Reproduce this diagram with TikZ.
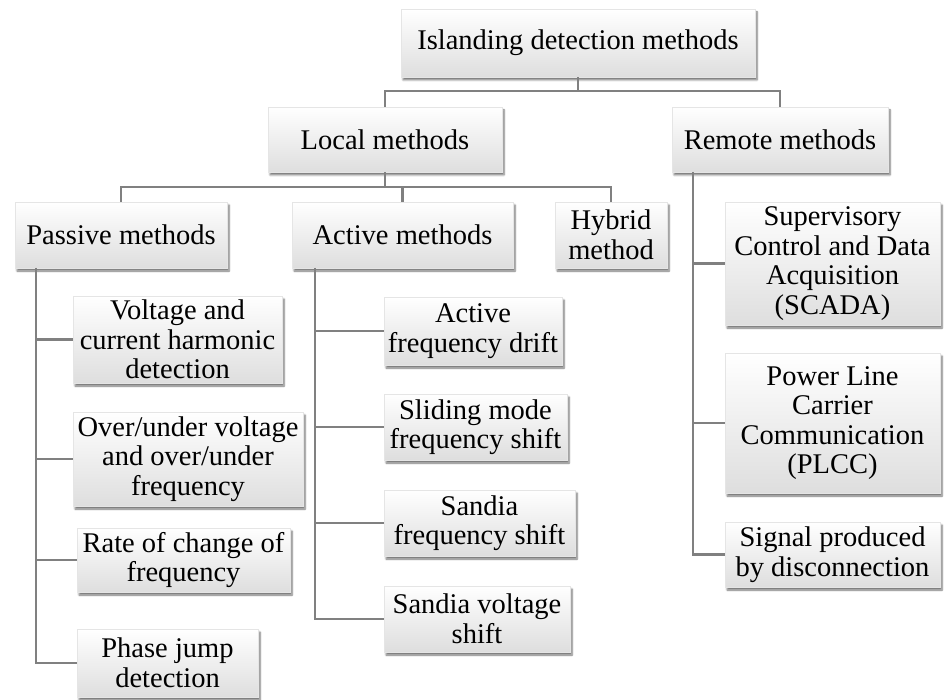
\documentclass[tikz,border=0pt]{standalone}
\usepackage{fontspec}
\setmainfont{Liberation Serif}
\usetikzlibrary{shadows.blur}
\definecolor{linegray}{RGB}{128,128,128}
\definecolor{boxbot}{RGB}{222,222,222}
\begin{document}
\begin{tikzpicture}[x=1pt,y=-1pt,
  box/.style={rectangle, inner sep=0pt, align=center,
    top color=white, bottom color=boxbot, draw=gray!20, line width=0.4pt,
    blur shadow={shadow xshift=2pt, shadow yshift=-3pt, shadow opacity=55, shadow blur steps=6},
    font=\fontsize{28.5}{29.5}\selectfont},
  conn/.style={draw=linegray, line width=2.2pt}]
\useasboundingbox (0,0) rectangle (946,700);
% top levels
\node[box, minimum width=354pt, minimum height=68pt] (root) at (578,43) {Islanding detection methods};
\node[box, minimum width=234pt, minimum height=65pt] (local) at (385,139.5) {Local methods};
\node[box, minimum width=216pt, minimum height=65pt] (remote) at (780,139.5) {Remote methods};
\node[box, minimum width=212pt, minimum height=66pt] (passive) at (121,235) {Passive methods};
\node[box, minimum width=221pt, minimum height=66pt] (active) at (402.5,235) {Active methods};
\node[box, minimum width=112pt, minimum height=66pt] (hybrid) at (611,235) {Hybrid\\method};
% remote children
\node[box, minimum width=215pt, minimum height=123pt] (scada) at (832.5,263.5) {Supervisory\\Control and Data\\Acquisition\\(SCADA)};
\node[box, minimum width=215pt, minimum height=140pt] (plcc) at (832.5,423) {Power Line\\Carrier\\Communication\\(PLCC)};
\node[box, minimum width=215pt, minimum height=65pt] (signal) at (832.5,554.5) {Signal produced\\by disconnection};
% passive children
\node[box, minimum width=209pt, minimum height=87pt] (voltage) at (177.5,339.5) {Voltage and\\current harmonic\\detection};
\node[box, minimum width=230pt, minimum height=94pt] (overunder) at (188,459) {Over/under voltage\\and over/under\\frequency};
\node[box, minimum width=213pt, minimum height=64pt] (rate) at (183.5,560) {Rate of change of\\frequency};
\node[box, minimum width=181pt, minimum height=68pt] (phase) at (167.5,663) {Phase jump\\detection};
% active children
\node[box, minimum width=178pt, minimum height=68pt] (afd) at (473,331) {Active\\frequency drift};
\node[box, minimum width=183pt, minimum height=66pt] (sliding) at (475.5,427) {Sliding mode\\frequency shift};
\node[box, minimum width=191pt, minimum height=66pt] (sandiaf) at (479.5,523) {Sandia\\frequency shift};
\node[box, minimum width=186pt, minimum height=66pt] (sandiav) at (477,619) {Sandia voltage\\shift};
% connectors level 1
\coordinate (bus1) at (0,91);
\draw[conn] (root.south) -- (root.south |- bus1);
\draw[conn] (local.north) -- (local.north |- bus1) -| (remote.north);
% level 2
\coordinate (bus2) at (0,187);
\draw[conn] (local.south) -- (local.south |- bus2);
\draw[conn] (passive.north) -- (passive.north |- bus2) -| (hybrid.north);
\draw[conn] (active.north) -- (active.north |- bus2);
% passive trunk
\coordinate (tp) at (36,268);
\draw[conn] (tp) |- (phase.west);
\draw[conn] (tp |- voltage.west) -- (voltage.west);
\draw[conn] (tp |- overunder.west) -- (overunder.west);
\draw[conn] (tp |- rate.west) -- (rate.west);
% active trunk
\coordinate (ta) at (315,268);
\draw[conn] (ta) |- (sandiav.west);
\draw[conn] (ta |- afd.west) -- (afd.west);
\draw[conn] (ta |- sliding.west) -- (sliding.west);
\draw[conn] (ta |- sandiaf.west) -- (sandiaf.west);
% remote trunk
\coordinate (tr) at (693,172);
\draw[conn] (tr) |- (signal.west);
\draw[conn] (tr |- scada.west) -- (scada.west);
\draw[conn] (tr |- plcc.west) -- (plcc.west);
\end{tikzpicture}
\end{document}
